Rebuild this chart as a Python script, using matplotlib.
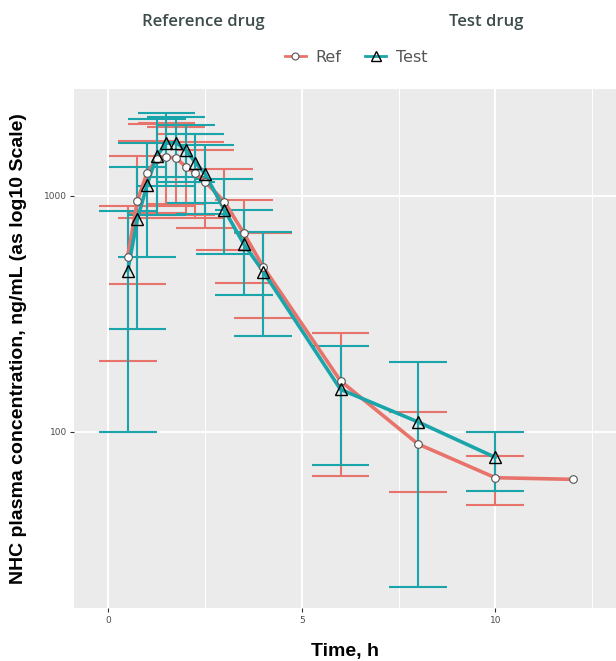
import numpy as np
import matplotlib.pyplot as plt
from matplotlib.lines import Line2D

# mean +/- SD, NHC plasma concentration (ng/mL)
ref_time = [0.5, 0.75, 1.0, 1.25, 1.5, 1.75, 2.0, 2.25, 2.5, 3.0, 3.5, 4.0, 6.0, 8.0, 10.0, 12.0]
ref_mean = [552, 950, 1251, 1426, 1462, 1440, 1327, 1244, 1146, 943, 693, 500, 164, 88.7, 63.8, 62.8]
ref_sd = [352, 526, 450, 580, 560, 520, 500, 440, 420, 354, 266, 196, 99, 33, 15, 0]

test_time = [0.5, 0.75, 1.0, 1.25, 1.5, 1.75, 2.0, 2.25, 2.5, 3.0, 3.5, 4.0, 6.0, 8.0, 10.0]
test_mean = [480, 796, 1110, 1472, 1667, 1678, 1563, 1380, 1236, 869, 624, 477, 151, 110, 77.8]
test_sd = [380, 524, 560, 642, 567, 480, 420, 450, 400, 304, 245, 223, 79, 88, 22]

RED = '#E8736B'
TEAL = '#19A5AA'
cap = 0.745

fig = plt.figure(figsize=(6.16, 6.61), dpi=100)
ax = fig.add_axes([0.120, 0.0802, 0.880, 0.7852])
ax.set_facecolor('#EBEBEB')
for s in ax.spines.values():
    s.set_visible(False)

ax.set_yscale('log')
ax.set_xlim(-0.89, 13.12)
ax.set_ylim(17.9, 2831)

# grid like ggplot
for xv in [2.5, 7.5, 12.5]:
    ax.axvline(xv, color='white', lw=0.7, zorder=0)
for xv in [0, 5, 10]:
    ax.axvline(xv, color='white', lw=1.4, zorder=0)
for yv in [100, 1000]:
    ax.axhline(yv, color='white', lw=1.4, zorder=0)

# error bars
for t, m, sd, col in [(ref_time, ref_mean, ref_sd, RED), (test_time, test_mean, test_sd, TEAL)]:
    t = np.array(t)
    m = np.array(m, dtype=float)
    sd = np.array(sd, dtype=float)
    keep = sd > 0
    lo = m[keep] - sd[keep]
    hi = m[keep] + sd[keep]
    tk = t[keep]
    ax.vlines(tk, lo, hi, color=col, lw=1.5, zorder=2)
    ax.hlines(lo, tk - cap, tk + cap, color=col, lw=1.5, zorder=2)
    ax.hlines(hi, tk - cap, tk + cap, color=col, lw=1.5, zorder=2)

ax.plot(ref_time, ref_mean, color=RED, lw=2.6, zorder=3, solid_capstyle='round')
ax.plot(test_time, test_mean, color=TEAL, lw=2.6, zorder=4, solid_capstyle='round')
ax.plot(ref_time, ref_mean, 'o', ms=5.5, mfc='white', mec='#555555', mew=0.8, ls='none', zorder=5)
ax.plot(test_time, test_mean, '^', ms=9, mfc='none', mec='black', mew=1.0, ls='none', zorder=5)

ax.set_xticks([0, 5, 10])
ax.set_xticklabels(['0', '5', '10'])
ax.set_yticks([100, 1000])
ax.set_yticklabels(['100', '1000'])
ax.yaxis.set_minor_locator(plt.NullLocator())
ax.tick_params(axis='both', labelsize=6.5, labelcolor='#4D4D4D', color='#333333',
               length=3, width=0.8, pad=2)
ax.tick_params(axis='x', pad=3)

ax.set_xlabel('Time, h', fontsize=14, fontweight='bold', family='Liberation Sans', labelpad=13)
ax.set_ylabel('NHC plasma concentration, ng/mL (as log10 Scale)', fontsize=14,
              fontweight='bold', family='Liberation Sans', labelpad=12)

fig.text(0.330, 0.967, 'Reference drug', ha='center', va='center', fontsize=12,
         family='Open Sans', fontweight='semibold', color='#3D4B4B')
fig.text(0.789, 0.967, 'Test drug', ha='center', va='center', fontsize=12,
         family='Open Sans', fontweight='semibold', color='#3D4B4B')

handles = [
    Line2D([], [], color=RED, lw=2, marker='o', ms=5, mfc='white', mec='#555555', mew=0.8),
    Line2D([], [], color=TEAL, lw=2, marker='^', ms=7, mfc='none', mec='black', mew=1.0),
]
fig.legend(handles, ['Ref', 'Test'], loc='center', bbox_to_anchor=(0.578, 0.913), ncol=2,
           frameon=False, fontsize=11.5, handlelength=1.3, columnspacing=1.5, handletextpad=0.6,
           labelcolor='#555555')

fig.savefig('out.png', dpi=100)
